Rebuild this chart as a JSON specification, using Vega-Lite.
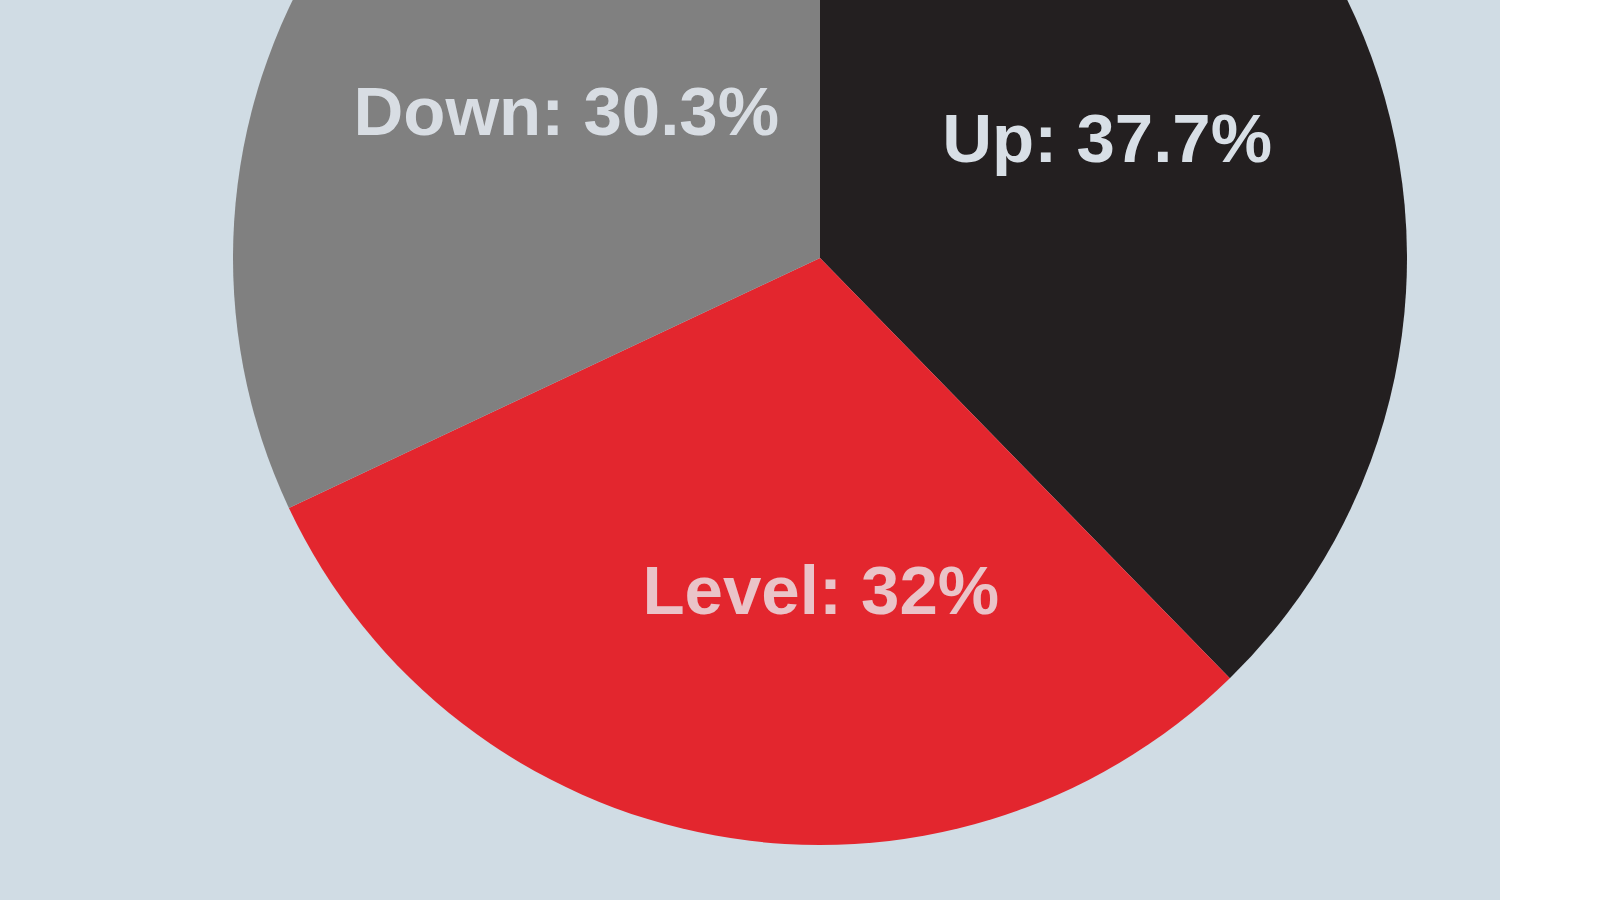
{
  "$schema": "https://vega.github.io/schema/vega-lite/v6.json",
  "description": "Up / Level / Down share pie",
  "width": 1500,
  "height": 900,
  "autosize": "none",
  "padding": 0,
  "background": "#d0dce4",
  "data": {
    "values": [
      {"category": "Up", "share": 37.7, "label": "Up: 37.7%", "order": 1},
      {"category": "Level", "share": 30.3, "label": "Level: 32%", "order": 2},
      {"category": "Down", "share": 32.0, "label": "Down: 30.3%", "order": 3}
    ]
  },
  "encoding": {
    "theta": {"field": "share", "type": "quantitative", "stack": true},
    "order": {"field": "order", "type": "quantitative"}
  },
  "layer": [
    {
      "mark": {"type": "arc", "x": 820, "y": 258, "radius": 587},
      "encoding": {
        "color": {
          "field": "category",
          "type": "nominal",
          "scale": {"domain": ["Up", "Level", "Down"], "range": ["#231f20", "#e3262e", "#808080"]},
          "legend": null
        }
      }
    },
    {
      "mark": {
        "type": "text", "x": 820, "y": 258, "radius": 310,
        "font": "Liberation Sans", "fontWeight": "bold", "fontSize": 69,
        "color": "#d8dfe6", "align": "center", "baseline": "middle"
      },
      "encoding": {
        "text": {"condition": {"test": "datum.category === 'Up'", "field": "label"}, "value": ""}
      }
    },
    {
      "mark": {
        "type": "text", "x": 820, "y": 258, "radius": 310, "dx": 56, "dy": 30,
        "font": "Liberation Sans", "fontWeight": "bold", "fontSize": 69,
        "color": "#eac3c8", "align": "center", "baseline": "middle"
      },
      "encoding": {
        "text": {"condition": {"test": "datum.category === 'Level'", "field": "label"}, "value": ""}
      }
    },
    {
      "mark": {
        "type": "text", "x": 820, "y": 258, "radius": 310, "dx": 8, "dy": 22,
        "font": "Liberation Sans", "fontWeight": "bold", "fontSize": 69,
        "color": "#d8dde3", "align": "center", "baseline": "middle"
      },
      "encoding": {
        "text": {"condition": {"test": "datum.category === 'Down'", "field": "label"}, "value": ""}
      }
    }
  ],
  "config": {"view": {"stroke": null}}
}
